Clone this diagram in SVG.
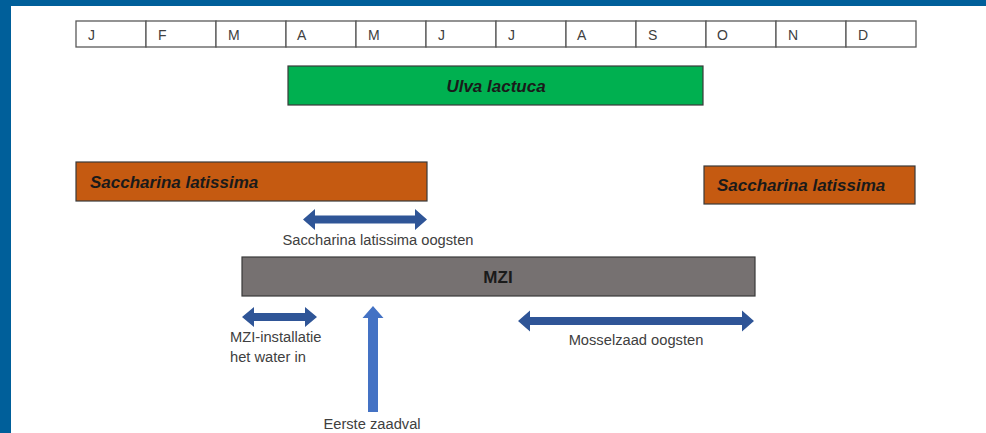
<svg xmlns="http://www.w3.org/2000/svg" width="986" height="433" viewBox="0 0 986 433">
<style>
.cell{fill:#ffffff;stroke:#595959;stroke-width:1.3}
.mon{font-family:"Liberation Sans",Arial,sans-serif;font-size:14px;fill:#404040}
.bar{stroke:#3a3a3a;stroke-width:1.2}
.bt{font-family:"Liberation Sans",Arial,sans-serif;font-size:17px;font-weight:bold;font-style:italic;fill:#1a1a1a}
.lbl{font-family:"Liberation Sans",Arial,sans-serif;font-size:14.7px;fill:#404040}
.darr{fill:#2F5597}
.uarr{fill:#4472C4}
</style>
<rect x="0" y="0" width="986" height="433" fill="#ffffff"/>
<rect x="0" y="0" width="986" height="6" fill="#005F9A"/>
<rect x="0" y="0" width="11" height="433" fill="#005F9A"/>
<g id="calendar">
<g id="m-jan"><rect class="cell" x="76" y="21" width="70" height="26"/><text class="mon" x="88" y="40">J</text></g>
<g id="m-feb"><rect class="cell" x="146" y="21" width="70" height="26"/><text class="mon" x="158" y="40">F</text></g>
<g id="m-mar"><rect class="cell" x="216" y="21" width="70" height="26"/><text class="mon" x="228" y="40">M</text></g>
<g id="m-apr"><rect class="cell" x="286" y="21" width="70" height="26"/><text class="mon" x="297" y="40">A</text></g>
<g id="m-may"><rect class="cell" x="356" y="21" width="70" height="26"/><text class="mon" x="368" y="40">M</text></g>
<g id="m-jun"><rect class="cell" x="426" y="21" width="70" height="26"/><text class="mon" x="438" y="40">J</text></g>
<g id="m-jul"><rect class="cell" x="496" y="21" width="70" height="26"/><text class="mon" x="508" y="40">J</text></g>
<g id="m-aug"><rect class="cell" x="566" y="21" width="70" height="26"/><text class="mon" x="577" y="40">A</text></g>
<g id="m-sep"><rect class="cell" x="636" y="21" width="70" height="26"/><text class="mon" x="648" y="40">S</text></g>
<g id="m-oct"><rect class="cell" x="706" y="21" width="70" height="26"/><text class="mon" x="717" y="40">O</text></g>
<g id="m-nov"><rect class="cell" x="776" y="21" width="70" height="26"/><text class="mon" x="788" y="40">N</text></g>
<g id="m-dec"><rect class="cell" x="846" y="21" width="70" height="26"/><text class="mon" x="858" y="40">D</text></g>
</g>
<g id="ulva"><rect class="bar" x="288" y="66" width="415" height="39" fill="#00B050"/><text class="bt" x="496" y="92" text-anchor="middle">Ulva lactuca</text></g>
<g id="saccharina-1"><rect class="bar" x="76" y="162" width="351" height="39" fill="#C55A11"/><text class="bt" x="90" y="188">Saccharina latissima</text></g>
<g id="saccharina-2"><rect class="bar" x="704" y="166" width="211" height="38" fill="#C55A11"/><text class="bt" x="717" y="191">Saccharina latissima</text></g>
<g id="mzi"><rect class="bar" x="242" y="257" width="513" height="39" fill="#767171"/><text x="498" y="283" text-anchor="middle" font-family="Liberation Sans, Arial, sans-serif" font-size="17" font-weight="bold" fill="#1a1a1a">MZI</text></g>
<g id="lbl-sacch-oogsten"><text class="lbl" x="378" y="245" text-anchor="middle">Saccharina latissima oogsten</text></g>
<g id="lbl-mzi-install"><text class="lbl" x="230" y="342">MZI-installatie</text><text class="lbl" x="230" y="362">het water in</text></g>
<g id="lbl-mossel"><text class="lbl" x="636" y="345" text-anchor="middle">Mosselzaad oogsten</text></g>
<g id="lbl-zaadval"><text class="lbl" x="372" y="429" text-anchor="middle">Eerste zaadval</text></g>
<g id="connectors">
<polygon class="darr" points="303,219.5 315,209 315,215.5 415,215.5 415,209 427,219.5 415,230 415,223.5 315,223.5 315,230"/>
<polygon class="darr" points="242,317 254,307 254,313 305,313 305,307 317,317 305,327 305,321 254,321 254,327"/>
<polygon class="darr" points="518,321 530,310.5 530,317 742,317 742,310.5 754,321 742,331.5 742,325 530,325 530,331.5"/>
<polygon class="uarr" points="373,306 383.5,318 378,318 378,412 368,412 368,318 362.5,318"/>
</g>
</svg>
